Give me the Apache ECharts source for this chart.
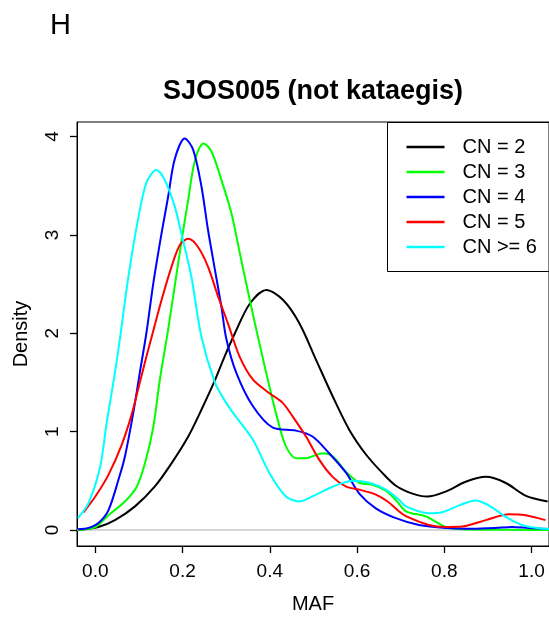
<!DOCTYPE html>
<html>
<head>
<meta charset="utf-8">
<script src="https://cdn.jsdelivr.net/npm/echarts@6/dist/echarts.min.js"></script>
<style>
html,body{margin:0;padding:0;background:#fff;}
#chart{width:549px;height:618px;}
</style>
</head>
<body>
<div id="chart"></div>
<script>
// ---- data ----
const seriesNames = ['CN = 2', 'CN = 3', 'CN = 4', 'CN = 5', 'CN >= 6'];
const seriesColors = ['#000000', '#00FF00', '#0000FF', '#FF0000', '#00FFFF'];

const cn2X = [-0.04,0.007,0.045,0.091,0.136,0.175,0.213,0.243,0.274,0.296,0.319,0.354,0.392,0.430,0.468,0.506,0.544,0.582,0.620,0.658,0.689,0.727,0.761,0.803,0.849,0.895,0.940,0.986,1.037];
const cn2Y = [0.0,0.03,0.10,0.24,0.44,0.68,0.95,1.22,1.52,1.76,1.99,2.30,2.44,2.34,2.10,1.73,1.36,1.02,0.77,0.58,0.45,0.37,0.34,0.39,0.49,0.54,0.48,0.35,0.29];

const cn3X = [-0.04,0.0,0.03,0.068,0.095,0.114,0.133,0.148,0.167,0.182,0.197,0.213,0.224,0.235,0.248,0.266,0.289,0.312,0.331,0.354,0.376,0.399,0.418,0.437,0.460,0.483,0.521,0.544,0.575,0.605,0.635,0.666,0.690,0.712,0.757,0.780,0.803,0.841,0.9,1.0,1.04];
const cn3Y = [0.0,0.03,0.15,0.29,0.44,0.68,1.05,1.53,2.04,2.48,2.92,3.36,3.67,3.85,3.93,3.85,3.56,3.22,2.82,2.34,1.90,1.46,1.12,0.85,0.73,0.73,0.78,0.75,0.59,0.48,0.46,0.40,0.30,0.19,0.14,0.085,0.03,0.007,0.003,0.0,0.0];

const cn4X = [-0.04,-0.016,0.007,0.030,0.053,0.068,0.087,0.102,0.117,0.133,0.152,0.167,0.182,0.205,0.224,0.243,0.258,0.274,0.289,0.300,0.323,0.361,0.407,0.460,0.498,0.536,0.575,0.605,0.643,0.689,0.742,0.803,0.864,0.917,0.955,0.994,1.04];
const cn4Y = [0.007,0.02,0.07,0.20,0.51,0.75,1.19,1.60,2.0,2.51,3.02,3.39,3.77,3.98,3.87,3.50,3.06,2.65,2.27,1.95,1.60,1.26,1.04,1.01,0.95,0.78,0.58,0.37,0.22,0.12,0.05,0.02,0.013,0.02,0.03,0.02,0.01];

const cn5X = [-0.027,0.0,0.030,0.060,0.083,0.102,0.117,0.129,0.152,0.175,0.194,0.213,0.235,0.258,0.281,0.304,0.331,0.361,0.399,0.430,0.453,0.483,0.514,0.544,0.575,0.605,0.643,0.670,0.696,0.712,0.765,0.803,0.841,0.895,0.948,0.986,1.032];
const cn5Y = [0.18,0.34,0.56,0.86,1.17,1.50,1.76,1.96,2.34,2.68,2.90,2.96,2.88,2.68,2.38,2.10,1.76,1.53,1.39,1.29,1.15,0.95,0.71,0.54,0.44,0.41,0.36,0.29,0.19,0.14,0.05,0.03,0.035,0.10,0.16,0.15,0.10];

const cn6X = [-0.04,-0.016,0.011,0.026,0.045,0.056,0.075,0.098,0.117,0.140,0.159,0.182,0.197,0.220,0.243,0.274,0.296,0.319,0.361,0.399,0.437,0.468,0.506,0.544,0.590,0.628,0.666,0.696,0.712,0.765,0.795,0.834,0.872,0.902,0.940,0.978,1.016,1.04];
const cn6Y = [0.12,0.27,0.64,1.09,1.60,1.93,2.55,3.16,3.53,3.66,3.56,3.29,3.02,2.58,1.97,1.50,1.32,1.17,0.92,0.58,0.34,0.29,0.36,0.44,0.50,0.48,0.41,0.31,0.24,0.17,0.18,0.25,0.30,0.25,0.135,0.05,0.017,0.01];

const xTicks = [0.0, 0.2, 0.4, 0.6, 0.8, 1.0];
const yTicks = [0, 1, 2, 3, 4];

const titleText = 'SJOS005 (not kataegis)';
const panelLabel = 'H';
const xName = 'MAF';
const yName = 'Density';

// ---- chart ----
const FONT = '"Liberation Sans", Arial, sans-serif';
const xs = [cn2X, cn3X, cn4X, cn5X, cn6X];
const ys = [cn2Y, cn3Y, cn4Y, cn5Y, cn6Y];

const series = seriesNames.map((name, i) => ({
  name: name,
  type: 'line',
  data: xs[i].map((x, j) => [x, ys[i][j]]),
  smooth: 0.3,
  symbol: 'none',
  showSymbol: false,
  clip: true,
  lineStyle: { color: seriesColors[i], width: 2 },
  itemStyle: { color: seriesColors[i] },
  z: 3 + i,
  markLine: i === 0 ? {
    silent: true,
    symbol: 'none',
    label: { show: false },
    lineStyle: { color: '#c8c8c8', width: 1.5, type: 'solid' },
    data: [{ yAxis: 0 }],
    z: 1
  } : undefined
}));

const tickStyle = { show: true, length: 7, lineStyle: { color: '#000', width: 1.3 } };

const chart = echarts.init(document.getElementById('chart'), null, { renderer: 'canvas' });
chart.setOption({
  animation: false,
  backgroundColor: '#ffffff',
  grid: {
    left: 77, top: 122, width: 473.4, height: 424,
    show: true, borderColor: '#000', borderWidth: 1
  },
  xAxis: {
    type: 'value',
    min: -0.042, max: 1.04,
    axisLine: { show: true, onZero: false, lineStyle: { color: '#000', width: 1 } },
    splitLine: { show: false },
    axisTick: Object.assign({ customValues: xTicks }, tickStyle),
    axisLabel: {
      show: true, margin: 16, fontSize: 19, fontFamily: FONT, color: '#000',
      customValues: xTicks,
      formatter: v => Number(v).toFixed(1)
    }
  },
  yAxis: {
    type: 'value',
    min: -0.163, max: 4.148,
    axisLine: { show: true, onZero: false, lineStyle: { color: '#000', width: 1 } },
    splitLine: { show: false },
    axisTick: Object.assign({ customValues: yTicks }, tickStyle),
    axisLabel: {
      show: true, margin: 15, fontSize: 19, fontFamily: FONT, color: '#000',
      rotate: 90,
      customValues: yTicks,
      formatter: v => String(Math.round(v))
    }
  },
  legend: {
    data: seriesNames,
    orient: 'vertical',
    left: 406.5, top: 137,
    padding: 0,
    itemWidth: 38, itemHeight: 2.5,
    itemGap: 5,
    icon: 'rect',
    selectedMode: false,
    textStyle: { fontSize: 20, fontFamily: FONT, color: '#000', lineHeight: 18, padding: [0, 0, 0, 13] }
  },
  graphic: [
    { type: 'rect', shape: { x: 387.5, y: 122.5, width: 200, height: 149 },
      style: { fill: 'none', stroke: '#000', lineWidth: 1 }, z: 10 },
    { type: 'text', x: 313, y: 92, style: { text: titleText, font: 'bold 27px ' + FONT, fill: '#000', textAlign: 'center', textVerticalAlign: 'middle' } },
    { type: 'text', x: 50, y: 26, style: { text: panelLabel, font: '29px ' + FONT, fill: '#000', textAlign: 'left', textVerticalAlign: 'middle' } },
    { type: 'text', x: 313, y: 604, style: { text: xName, font: '20px ' + FONT, fill: '#000', textAlign: 'center', textVerticalAlign: 'middle' } },
    { type: 'text', x: 21, y: 334, rotation: Math.PI / 2, style: { text: yName, font: '20px ' + FONT, fill: '#000', textAlign: 'center', textVerticalAlign: 'middle' } }
  ],
  series: series
});
</script>
</body>
</html>
